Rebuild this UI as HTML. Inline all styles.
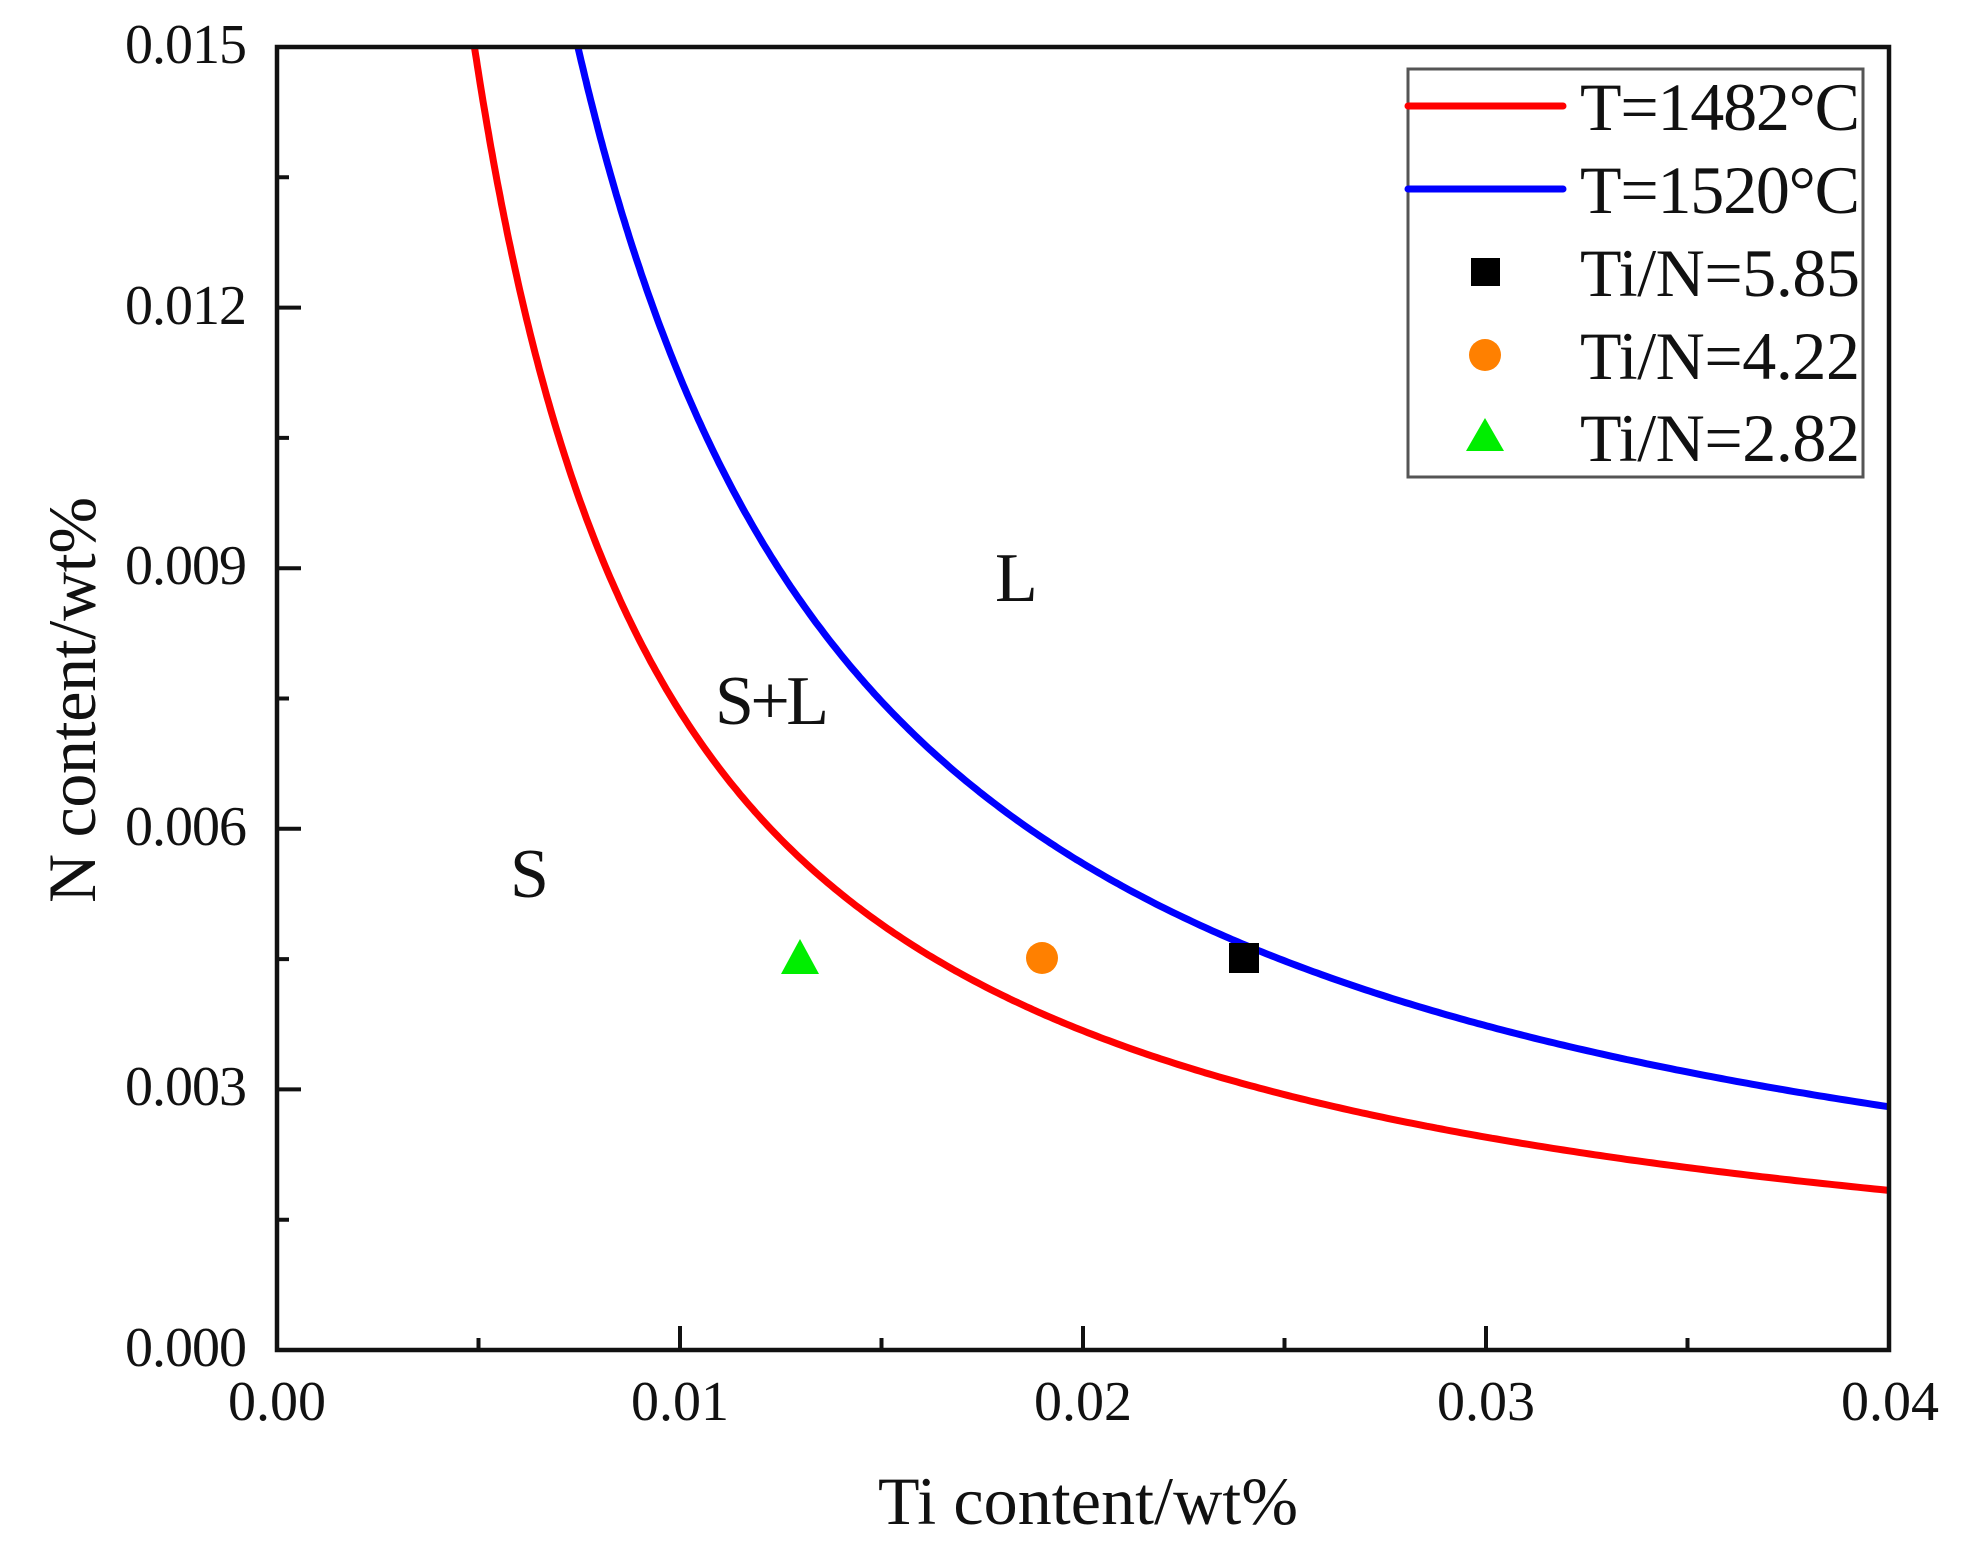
<!DOCTYPE html>
<html><head><meta charset="utf-8"><style>html,body{margin:0;padding:0;background:#fff}svg{display:block}</style></head>
<body>
<svg id="s" width="1965" height="1553" viewBox="0 0 1965 1553" xmlns="http://www.w3.org/2000/svg" font-family="Liberation Serif, serif">
<rect width="1965" height="1553" fill="#fff"/>
<defs><clipPath id="c"><rect x="277" y="47" width="1612" height="1303"/></clipPath></defs>
<g id="curves" clip-path="url(#c)" fill="none" stroke-width="7" stroke-linejoin="round"></g>
<g id="ticks" stroke="#111" stroke-width="4"></g>
<rect x="277" y="47" width="1612" height="1303" fill="none" stroke="#111" stroke-width="4.5"/>
<g font-size="56" fill="#111" text-anchor="end" id="yl">
<text x="247" y="1366" textLength="122">0.000</text>
<text x="247" y="1105" textLength="122">0.003</text>
<text x="247" y="845" textLength="122">0.006</text>
<text x="247" y="584" textLength="122">0.009</text>
<text x="247" y="324" textLength="122">0.012</text>
<text x="247" y="63" textLength="122">0.015</text>
</g>
<g font-size="56" fill="#111" text-anchor="middle">
<text x="277" y="1420">0.00</text>
<text x="680" y="1420">0.01</text>
<text x="1083" y="1420">0.02</text>
<text x="1486" y="1420">0.03</text>
<text x="1890" y="1420">0.04</text>
</g>
<text x="878" y="1524" font-size="68" fill="#111" textLength="420">Ti content/wt%</text>
<text transform="translate(95,903) rotate(-90)" x="0" y="0" font-size="68" fill="#111" textLength="406">N content/wt%</text>
<g font-size="70" fill="#111">
<text x="995" y="601">L</text>
<text x="715" y="724" textLength="114">S+L</text>
<text x="510" y="897">S</text>
</g>
<polygon points="800,939 781,974 819,974" fill="#00ee00"/>
<circle cx="1042" cy="958" r="16" fill="#ff8000"/>
<rect x="1229" y="943" width="30" height="30" fill="#000"/>
<rect x="1408" y="69" width="455" height="408" fill="#fff" stroke="#555" stroke-width="3"/>
<line x1="1408" y1="106" x2="1563" y2="106" stroke="#f00" stroke-width="7" stroke-linecap="round"/>
<line x1="1408" y1="189" x2="1563" y2="189" stroke="#00f" stroke-width="7" stroke-linecap="round"/>
<rect x="1471" y="258" width="29" height="28" fill="#000"/>
<circle cx="1485" cy="355" r="16" fill="#ff8000"/>
<polygon points="1485,418 1466,451 1504,451" fill="#00ee00"/>
<g font-size="68" fill="#111">
<text x="1580" y="130" textLength="280">T=1482°C</text>
<text x="1580" y="213" textLength="280">T=1520°C</text>
<text x="1580" y="296" textLength="280">Ti/N=5.85</text>
<text x="1580" y="379" textLength="280">Ti/N=4.22</text>
<text x="1580" y="461" textLength="280">Ti/N=2.82</text>
</g>
<script>
(function(){
var X=function(t){return 277+t/0.04*1612},Y=function(n){return 1350-n/0.015*1303};
var g=document.getElementById('curves');
[[7.35e-5,'#f00'],[1.12e-4,'#00f']].forEach(function(a){
 var d='',t0=a[0]/0.0155;
 for(var i=0;i<=400;i++){var t=t0+(0.0405-t0)*Math.pow(i/400,1.6);d+=(i?'L':'M')+X(t).toFixed(1)+','+Y(a[0]/t).toFixed(1);}
 var p=document.createElementNS('http://www.w3.org/2000/svg','path');p.setAttribute('d',d);p.setAttribute('stroke',a[1]);g.appendChild(p);
});
var tk=document.getElementById('ticks'),s='';
for(var i=1;i<8;i++){var x=277+i*1612/8,L=i%2?12:24;s+='M'+x+',1350v-'+L;}
for(var j=1;j<10;j++){var y=1350-j*1303/10,L2=j%2?12:24;s+='M277,'+y+'h'+L2;}
var p=document.createElementNS('http://www.w3.org/2000/svg','path');p.setAttribute('d',s);tk.appendChild(p);
})();
</script>
</svg>
</body></html>
